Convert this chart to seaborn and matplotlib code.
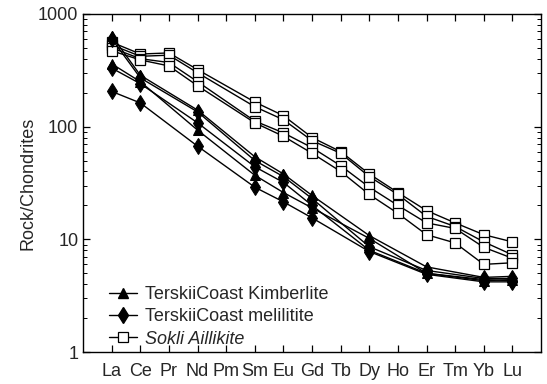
import numpy as np
import pandas as pd
import matplotlib
matplotlib.use("Agg")
import matplotlib.pyplot as plt
from matplotlib.lines import Line2D
import matplotlib.ticker as mticker
import seaborn as sb

# REE order on the x axis
elements = ["La", "Ce", "Pr", "Nd", "Pm", "Sm", "Eu", "Gd", "Tb", "Dy", "Ho", "Er", "Tm", "Yb", "Lu"]

# Terskii Coast samples only have these elements
tc_elements = ["La", "Ce", "Nd", "Sm", "Eu", "Gd", "Dy", "Er", "Yb", "Lu"]
kimb_1 = [640, 285, 140, 54, 38, 24.5, 10.8, 5.7, 4.6, 4.7]
kimb_2 = [360, 250, 93, 37, 26, 19, 10.2, 5.0, 4.3, 4.4]
meli_1 = [600, 270, 135, 50, 36, 23, 8.6, 5.3, 4.5, 4.5]
meli_2 = [330, 240, 108, 44, 32, 20, 8.0, 5.0, 4.4, 4.3]
meli_3 = [205, 162, 67, 29, 21.5, 15.5, 7.8, 4.9, 4.2, 4.2]

# Sokli has everything except Pm
sokli_elements = ["La", "Ce", "Pr", "Nd", "Sm", "Eu", "Gd", "Tb", "Dy", "Ho", "Er", "Tm", "Yb", "Lu"]
sokli_1 = [560, 440, 450, 320, 165, 125, 80, 60, 38, 26, 18, 14, 11, 9.5]
sokli_2 = [530, 420, 430, 300, 150, 115, 75, 58, 36, 25, 16, 13, 9.5, 7.3]
sokli_3 = [500, 400, 370, 250, 112, 88, 65, 45, 29, 20, 14, 12.5, 8.5, 6.8]
sokli_4 = [470, 390, 345, 230, 108, 82, 58, 40, 25, 17, 11, 9.3, 6.0, 6.2]

labels = ["TerskiiCoast Kimberlite", "TerskiiCoast melilitite", "Sokli Aillikite"]

# build one long table
rows = []
def add(group, sample, els, vals):
    for e, v in zip(els, vals):
        rows.append({"group": group, "sample": sample, "pos": elements.index(e), "value": v})

add("sokli", "s1", sokli_elements, sokli_1)
add("sokli", "s2", sokli_elements, sokli_2)
add("sokli", "s3", sokli_elements, sokli_3)
add("sokli", "s4", sokli_elements, sokli_4)
add("meli", "m1", tc_elements, meli_1)
add("meli", "m2", tc_elements, meli_2)
add("meli", "m3", tc_elements, meli_3)
add("kimb", "k1", tc_elements, kimb_1)
add("kimb", "k2", tc_elements, kimb_2)
dataset = pd.DataFrame(rows)

sb.set_style("ticks")
plt.rcParams["font.family"] = ["Liberation Sans", "DejaVu Sans"]

fig = plt.figure(figsize=(5.47, 3.84), dpi=100)
ax = fig.add_axes([0.152, 0.083, 0.837, 0.881])

styles = {
    "sokli": dict(marker="s", markersize=7, markerfacecolor="white", markeredgecolor="black", markeredgewidth=0.9),
    "meli": dict(marker="d", markersize=8.5, markerfacecolor="black", markeredgecolor="black"),
    "kimb": dict(marker="^", markersize=7.5, markerfacecolor="black", markeredgecolor="black"),
}
for grp in ["sokli", "meli", "kimb"]:
    sub = dataset[dataset["group"] == grp]
    sb.lineplot(data=sub, x="pos", y="value", units="sample", estimator=None,
                color="black", linewidth=1.0, ax=ax, legend=False, **styles[grp])

ax.set_yscale("log")
ax.set_ylim(1, 1000)
ax.set_xlim(-1, 15)
ax.set_xticks(range(len(elements)))
ax.set_xticklabels(elements)
ax.yaxis.set_major_formatter(mticker.FuncFormatter(lambda v, p: "%d" % v))
ax.yaxis.set_minor_formatter(mticker.NullFormatter())
ax.set_xlabel("")
ax.set_ylabel("Rock/Chondrites", fontsize=13, labelpad=1)

ax.tick_params(which="both", direction="in", top=True, right=True, labelsize=13, color="black")
ax.tick_params(which="major", length=5, width=0.9)
ax.tick_params(which="minor", length=3, width=0.7)
ax.tick_params(axis="x", pad=8)
for s in ax.spines.values():
    s.set_color("black")
    s.set_linewidth(1.0)

handles = [
    Line2D([], [], color="black", linewidth=1.0, **styles["kimb"]),
    Line2D([], [], color="black", linewidth=1.0, **styles["meli"]),
    Line2D([], [], color="black", linewidth=1.0, **styles["sokli"]),
]
leg = ax.legend(handles, labels, loc="lower left", bbox_to_anchor=(0.02, -0.035), frameon=False,
                fontsize=13, handlelength=1.6, handletextpad=0.4, labelspacing=0.3)
leg.get_texts()[2].set_style("italic")

fig.savefig("out.png", dpi=100)
